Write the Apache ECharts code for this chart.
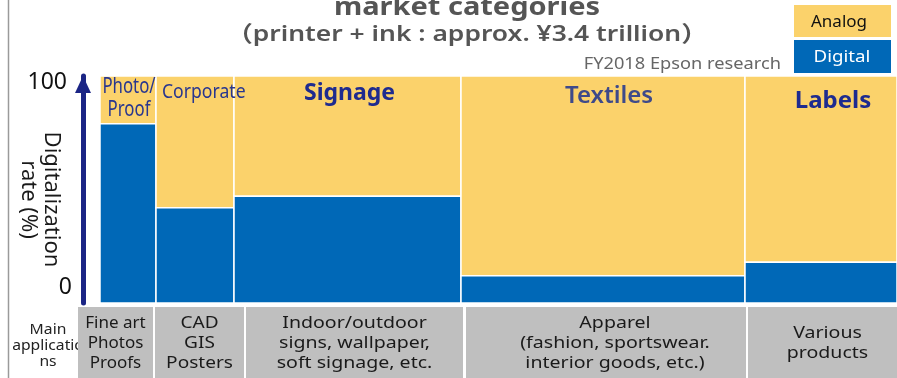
<!DOCTYPE html>
<html>
<head>
<meta charset="utf-8">
<script src="https://cdn.jsdelivr.net/npm/echarts@6/dist/echarts.min.js"></script>
<style>
  html, body { margin: 0; padding: 0; background: #fff; }
  #chart { width: 897px; height: 378px; }
</style>
</head>
<body>
<div id="chart"></div>
<script>
// Market categories: column width = relative market size, blue share = digitalization rate (%)
const categories = ['Photo/\nProof', 'Corporate', 'Signage', 'Textiles', 'Labels'];
const marketWidth = [56, 78, 227, 284, 152];
const digitalRate = [79, 42, 47, 12, 18];
const applications = [
  'Fine art\nPhotos\nProofs',
  'CAD\nGIS\nPosters',
  'Indoor/outdoor\nsigns, wallpaper,\nsoft signage, etc.',
  'Apparel\n(fashion, sportswear.\ninterior goods, etc.)',
  'Various\nproducts'
];
const yTicks = [0, 100];

const FONT = "'Noto Sans', 'Noto Sans CJK JP', sans-serif";
const COLOR_ANALOG = '#FBD26B';
const COLOR_DIGITAL = '#0068B7';
const NAVY = '#1E2B8F';

// cumulative column extents on the x value axis
let acc = 0;
const cells = categories.map((c, i) => {
  const start = acc;
  acc += marketWidth[i];
  return [start, acc, digitalRate[i], i];
});
const total = acc;

// look of the category name printed at the top of each column
const nameLook = [
  { size: 21, weight: 'normal', fill: '#28368F', scaleX: 0.8, align: 'center', dx: 1, dy: 23, lineHeight: 23 },
  { size: 20, weight: 'normal', fill: '#28368F', scaleX: 0.88, align: 'left', dx: 6, dy: 16, lineHeight: 22 },
  { size: 23, weight: 'bold', fill: NAVY, scaleX: 1, align: 'center', dx: 2, dy: 17, lineHeight: 26 },
  { size: 24, weight: 600, fill: '#3E4A8A', scaleX: 1, align: 'center', dx: 6, dy: 20, lineHeight: 28 },
  { size: 24, weight: 'bold', fill: NAVY, scaleX: 1, align: 'center', dx: 12, dy: 25, lineHeight: 28 }
];

function cellBox(api) {
  const x0 = api.value(0), x1 = api.value(1), d = api.value(2);
  const bl = api.coord([x0, 0]);
  const tr = api.coord([x1, 100]);
  const mid = api.coord([x1, d]);
  return { left: bl[0], right: tr[0], top: tr[1], bottom: bl[1], split: mid[1] };
}

function renderCell(params, api) {
  const b = cellBox(api);
  return {
    type: 'group',
    children: [
      { type: 'rect', shape: { x: b.left, y: b.top, width: b.right - b.left, height: b.split - b.top },
        style: { fill: COLOR_ANALOG, stroke: '#fff', lineWidth: 1.5 } },
      { type: 'rect', shape: { x: b.left, y: b.split, width: b.right - b.left, height: b.bottom - b.split },
        style: { fill: COLOR_DIGITAL, stroke: '#fff', lineWidth: 1.5 } }
    ]
  };
}

function renderName(params, api) {
  const b = cellBox(api);
  const i = api.value(3);
  const look = nameLook[i];
  const tx = look.align === 'left' ? b.left + look.dx : (b.left + b.right) / 2 + look.dx;
  return {
    type: 'text', x: tx, y: b.top + look.dy, scaleX: look.scaleX,
    style: { text: categories[i], fill: look.fill, fontSize: look.size, fontWeight: look.weight,
             fontFamily: FONT, align: look.align, textAlign: look.align,
             verticalAlign: 'middle', textVerticalAlign: 'middle', lineHeight: look.lineHeight }
  };
}

// layout of the "main applications" strip under the columns
const tableCols = [[78, 153], [155, 244], [246, 463], [466, 746], [748, 897]];
const tableTextDx = [0, 0, 0, 9, 5];
const tableStretch = [1.0, 1.12, 1.15, 1.15, 1.15];

// text helper; wide = horizontal stretch for the broad lettering used in the labels
function txt(text, x, y, o, wide) {
  return {
    type: 'text', x: x, y: y, silent: true, scaleX: wide || 1,
    style: Object.assign({
      text: text, fill: '#1a1a1a', fontFamily: FONT, fontSize: 17,
      align: 'center', textAlign: 'center', verticalAlign: 'middle', textVerticalAlign: 'middle'
    }, o || {})
  };
}

const graphics = [
  { type: 'line', shape: { x1: 8.5, y1: 0, x2: 8.5, y2: 378 }, style: { stroke: '#9a9a9a', lineWidth: 1.5 }, silent: true },
  txt('market categories', 467, 8, { fontSize: 25, fontWeight: 'bold', fill: '#555' }, 1.16),
  txt('（printer + ink : approx. ¥3.4 trillion）', 467, 35, { fontSize: 22, fontWeight: 600, fill: '#555' }, 1.2),
  txt('FY2018 Epson research', 781, 64, { fontSize: 16, fill: '#666', align: 'right', textAlign: 'right' }, 1.14),
  { type: 'rect', shape: { x: 794, y: 5, width: 97, height: 32 }, style: { fill: COLOR_ANALOG }, silent: true },
  { type: 'rect', shape: { x: 794, y: 40, width: 97, height: 33 }, style: { fill: COLOR_DIGITAL }, silent: true },
  txt('Analog', 839, 22, { fontSize: 17, fill: '#111' }),
  txt('Digital', 842, 57, { fontSize: 17, fill: '#fff' }, 1.1),
  txt('Main\napplicatio\nns', 48, 346, { fontSize: 14, lineHeight: 16, fill: '#222' }, 1.12)
];
tableCols.forEach((c) => {
  graphics.push({ type: 'rect', shape: { x: c[0], y: 307, width: c[1] - c[0], height: 75 },
                  style: { fill: '#BFBFBF' }, silent: true });
});
tableCols.forEach((c, i) => {
  graphics.push(txt(applications[i], (c[0] + c[1]) / 2 + tableTextDx[i], 343, { lineHeight: 20 }, tableStretch[i]));
});

const chart = echarts.init(document.getElementById('chart'));
chart.setOption({
  animation: false,
  backgroundColor: '#fff',
  grid: { left: 100, right: 0, top: 76, bottom: 75, containLabel: false, outerBoundsMode: 'none' },
  xAxis: { type: 'value', min: 0, max: total, show: false },
  yAxis: {
    type: 'value', min: yTicks[0], max: yTicks[yTicks.length - 1], interval: yTicks[1] - yTicks[0],
    offset: 17,
    splitLine: { show: false },
    axisTick: { show: false },
    axisLine: {
      show: true, onZero: false,
      symbol: ['none', 'triangle'], symbolSize: [16, 17], symbolOffset: [0, -8.5],
      lineStyle: { color: '#1B2585', width: 5 }
    },
    axisLabel: {
      margin: 11,
      fontFamily: FONT, fontSize: 23, color: '#111',
      formatter: v => (v === 100 ? '{hi|100}' : '{lo|' + v + '}'),
      rich: {
        hi: { fontFamily: FONT, fontSize: 23, color: '#111', padding: [12, 5, 0, 0] },
        lo: { fontFamily: FONT, fontSize: 23, color: '#111', padding: [0, 0, 32, 0] }
      }
    },
    name: 'Digitalization\nrate (%)',
    nameLocation: 'middle',
    nameRotate: -90,
    nameGap: 20,
    nameMoveOverlap: false,
    nameTextStyle: { fontFamily: FONT, fontSize: 22, color: '#1a1a1a', lineHeight: 23, padding: [0, 0, 0, 20] }
  },
  series: [{
    type: 'custom',
    renderItem: renderCell,
    encode: { x: [0, 1], y: 2 },
    data: cells,
    silent: true,
    z: 2
  }, {
    type: 'custom',
    renderItem: renderName,
    encode: { x: [0, 1], y: 2 },
    data: cells,
    silent: true,
    clip: false,
    z: 3
  }],
  graphic: graphics
});
</script>
</body>
</html>
